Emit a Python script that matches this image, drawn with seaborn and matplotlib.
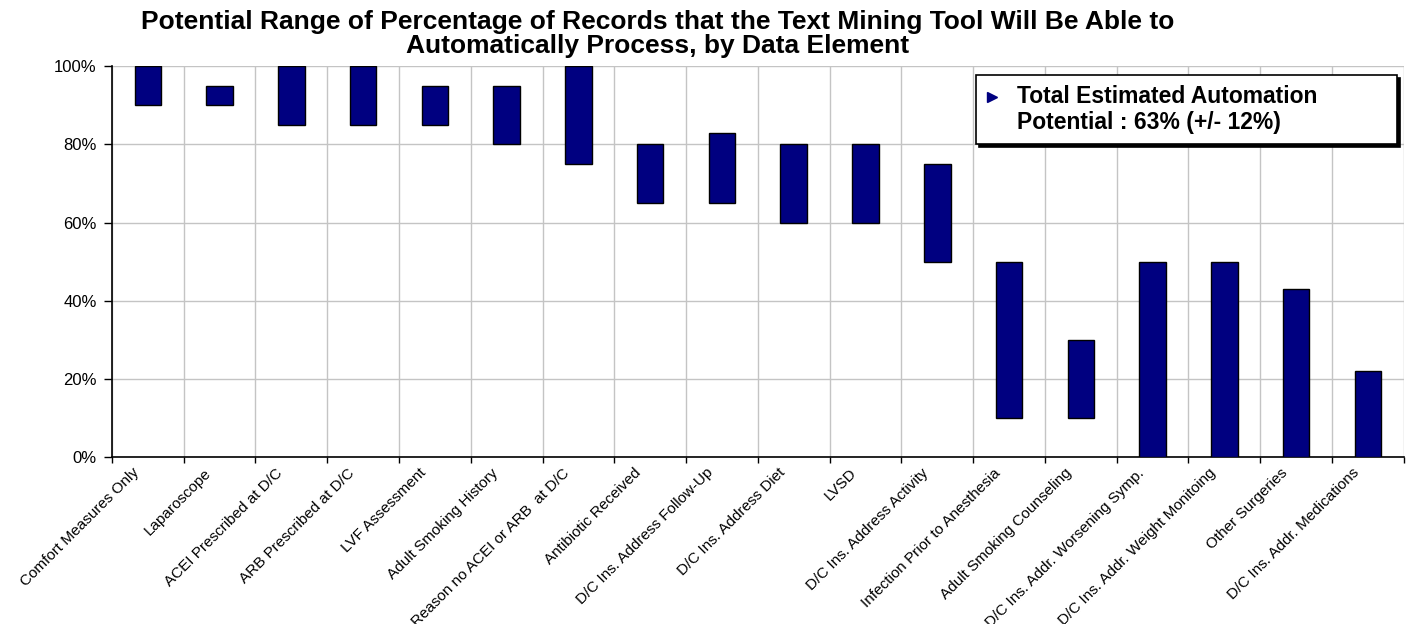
import numpy as np
import pandas as pd
import matplotlib
matplotlib.use("Agg")
import matplotlib.pyplot as plt
from matplotlib.lines import Line2D
from matplotlib.legend_handler import HandlerLine2D
from matplotlib.ticker import FixedLocator, FuncFormatter
from matplotlib.transforms import ScaledTranslation
import seaborn as sns

# data elements and the low / high ends of the automation range (%)
categories = ["Comfort Measures Only", "Laparoscope", "ACEI Prescribed at D/C",
              "ARB Prescribed at D/C", "LVF Assessment", "Adult Smoking History",
              "Reason no ACEI or ARB  at D/C", "Antibiotic Received",
              "D/C Ins. Address Follow-Up", "D/C Ins. Address Diet", "LVSD",
              "D/C Ins. Address Activity", "Infection Prior to Anesthesia",
              "Adult Smoking Counseling", "D/C Ins. Addr. Worsening Symp.",
              "D/C Ins. Addr. Weight Monitoing", "Other Surgeries",
              "D/C Ins. Addr. Medications"]
low = [90, 90, 85, 85, 85, 80, 75, 65, 65, 60, 60, 50, 10, 10, 0, 0, 0, 0]
high = [100, 95, 100, 100, 95, 95, 100, 80, 83, 80, 80, 75, 50, 30, 50, 50, 43, 22]
yticks = [0, 20, 40, 60, 80, 100]
note = "Total Estimated Automation\nPotential : 63% (+/- 12%)"

sns.set_style("white")
plt.rcParams["font.family"] = ["Liberation Sans", "DejaVu Sans"]
plt.rcParams["text.color"] = "black"
plt.rcParams["xtick.color"] = "black"
plt.rcParams["ytick.color"] = "black"

df = pd.DataFrame({"element": categories, "span": np.subtract(high, low)})

fig = plt.figure(figsize=(14.08, 6.24), dpi=100)
ax = fig.add_axes([0.0795, 0.267, 0.9175, 0.627])

sns.barplot(data=df, x="element", y="span", bottom=low, color="#000080",
            saturation=1, width=0.37, edgecolor="black", linewidth=1,
            errorbar=None, ax=ax, zorder=3)

ax.set_xlim(-0.5, len(categories) - 0.5)
ax.set_ylim(0, 100)
ax.set_yticks(yticks)
ax.yaxis.set_major_formatter(FuncFormatter(lambda v, p: "%d%%" % v))
ax.xaxis.set_minor_locator(FixedLocator(np.arange(-0.5, len(categories), 1)))
ax.grid(True, which="minor", axis="x", color="#c4c4c4", linewidth=1)
ax.grid(True, which="major", axis="y", color="#c4c4c4", linewidth=1)
ax.set_axisbelow(True)
ax.tick_params(axis="x", which="major", length=0, pad=6)
ax.tick_params(axis="x", which="minor", length=4, width=1, direction="out", bottom=True)
ax.tick_params(axis="y", length=6, width=1, direction="out", left=True,
               labelsize=12, pad=5)
shift = ScaledTranslation(-16 / 100, 0, fig.dpi_scale_trans)
for lab in ax.get_xticklabels():
    lab.set_rotation(45)
    lab.set_ha("right")
    lab.set_va("top")
    lab.set_rotation_mode("anchor")
    lab.set_fontsize(11)
    lab.set_transform(lab.get_transform() + shift)
ax.set_xlabel("")
ax.set_ylabel("")
for s in ["top", "right"]:
    ax.spines[s].set_visible(False)
for s in ["left", "bottom"]:
    ax.spines[s].set_color("black")
    ax.spines[s].set_linewidth(1.2)


class UpHandler(HandlerLine2D):
    # put the marker next to the first line of the label
    def create_artists(self, legend, orig_handle, xdescent, ydescent,
                       width, height, fontsize, trans):
        arts = super().create_artists(legend, orig_handle, xdescent, ydescent,
                                      width, height, fontsize, trans)
        for a in arts:
            a.set_ydata(np.asarray(a.get_ydata()) + 0.6 * fontsize)
        return arts


h = Line2D([], [], marker=">", color="#000080", linestyle="none", markersize=7.5)
leg = ax.legend([h], [note], loc="upper left",
                bbox_to_anchor=(0.669, 0.80, 0.326, 0.177), mode="expand",
                prop=dict(weight="bold", size=16.5), frameon=True, fancybox=False,
                shadow={"color": "black", "alpha": 1}, framealpha=1,
                borderaxespad=0, handlelength=0.55, handletextpad=0.8,
                borderpad=0.42, handler_map={Line2D: UpHandler()})
leg.get_frame().set_edgecolor("black")
leg.get_frame().set_linewidth(1.2)

fig.text(0.467, 0.984, "Potential Range of Percentage of Records that the Text Mining Tool Will Be Able to\nAutomatically Process, by Data Element",
         ha="center", va="top", fontsize=19, fontweight="bold", linespacing=1.0)

fig.savefig("out.png", dpi=100)
